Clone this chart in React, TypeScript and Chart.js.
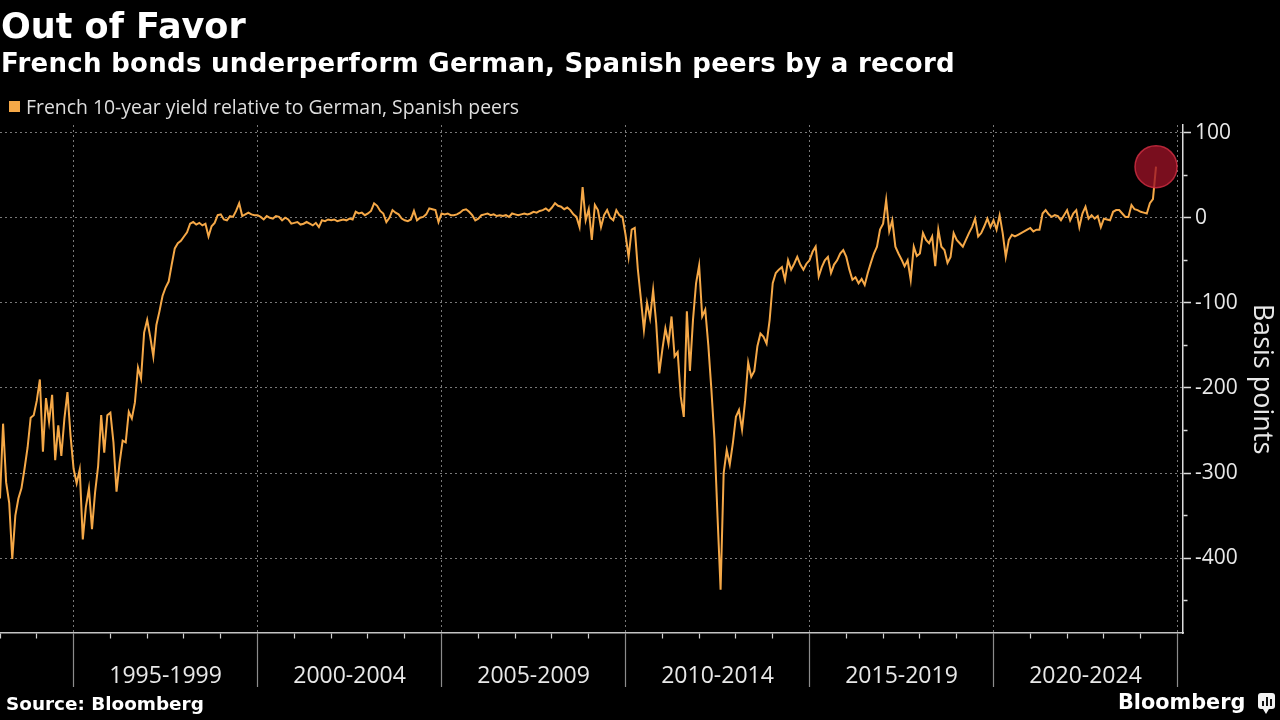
import React, { useEffect, useRef } from 'react';
import { Chart, registerables } from 'chart.js';

Chart.register(...registerables);

// ---- Data (basis points, monthly readings from the chart) ----
const START_YEAR = 1993;

const spread1993to1999 = [
  -330, -242, -311, -335, -401, -350, -330, -318, -295, -270, -235, -232,
  -215, -190, -275, -212, -240, -208, -285, -244, -280, -236, -205, -256,
  -295, -312, -296, -378, -340, -318, -366, -323, -292, -232, -276, -232,
  -229, -264, -322, -288, -262, -264, -228, -236, -217, -176, -189, -135,
  -120, -140, -163, -126, -110, -92, -82, -75, -55, -36, -30, -27,
  -22, -17, -7, -5, -8, -6, -9, -7, -22, -10, -6, 3,
  4, -2, -3, 2, 1, 8, 17, 2, 4, 6, 4, 3,
];

const spread2000to2009 = [
  3, 1, -2, 2, 0, -1, 2, 1, -3, 0, -2, -7,
  -6, -5, -8, -7, -5, -7, -9, -6, -11, -3, -4, -2,
  -3, -2, -4, -3, -2, -3, -1, -2, 7, 5, 6, 3,
  5, 8, 17, 14, 8, 5, -5, 0, 9, 6, 4, -1,
  -3, -4, -2, 8, -3, 0, 1, 4, 11, 10, 9, -5,
  5, 4, 5, 3, 3, 4, 6, 9, 10, 7, 3, -3,
  -1, 3, 4, 5, 3, 4, 2, 3, 2, 3, 1, 5,
  4, 3, 4, 5, 4, 5, 7, 6, 8, 9, 11, 8,
  12, 17, 14, 13, 10, 12, 9, 4, 1, -11, 36, -3,
  10, -26, 15, 9, -11, 3, 9, 0, -3, 9, 3, 1,
];

const spread2010to2014 = [
  -20, -46, -14, -12, -60, -95, -132, -100, -118, -85, -124, -183,
  -155, -130, -148, -116, -163, -158, -210, -234, -110, -180, -120, -77,
  -56, -116, -108, -150, -202, -260, -351, -437, -300, -273, -290, -265,
  -234, -226, -249, -215, -170, -187, -180, -151, -136, -140, -148, -120,
  -77, -65, -61, -58, -73, -50, -61, -54, -46, -55, -61, -54,
];

const spread2015to2024 = [
  -50, -40, -34, -69, -58, -50, -46, -65, -55, -50, -42, -38,
  -46, -61, -73, -70, -77, -72, -79, -65, -53, -42, -34, -14,
  -7, 21, -16, -3, -34, -42, -49, -57, -50, -73, -34, -45,
  -42, -18, -26, -30, -22, -57, -14, -34, -38, -53, -46, -18,
  -26, -30, -34, -26, -18, -11, -1, -22, -18, -10, -1, -11,
  -3, -14, 3, -18, -46, -26, -20, -22, -20, -18, -16, -14,
  -12, -16, -14, -14, 5, 9, 4, 1, 3, 2, -3, 3,
  9, -3, 5, 9, -11, 5, 13, -1, 3, -1, 2, -11,
  -1, -2, -3, 7, 9, 9, 5, 1, 1, 15, 10, 9,
  7, 6, 5, 17, 22, 60,
];

const periodLabels = ['1995-1999', '2000-2004', '2005-2009', '2010-2014', '2015-2019', '2020-2024'];
const periodMidpoints = [1997.5, 2002.5, 2007.5, 2012.5, 2017.5, 2022.5];
const yearTicks = [
  1993, 1994, 1995, 1996, 1997, 1998, 1999, 2000, 2001, 2002, 2003, 2004, 2005,
  2006, 2007, 2008, 2009, 2010, 2011, 2012, 2013, 2014, 2015, 2016, 2017, 2018,
  2019, 2020, 2021, 2022, 2023, 2024, 2025,
];
const yTickValues = [-450, -400, -350, -300, -250, -200, -150, -100, -50, 0, 50, 100];

const seriesLabel = 'French 10-year yield relative to German, Spanish peers';
const titleText = 'Out of Favor';
const subtitleText = 'French bonds underperform German, Spanish peers by a record';
const sourceText = 'Source: Bloomberg';
const yAxisTitle = 'Basis points';

const LINE_COLOR = '#F5A847';
const GRID_COLOR = 'rgba(150,150,150,0.8)';

export default function App() {
  const canvasRef = useRef<HTMLCanvasElement | null>(null);

  useEffect(() => {
    if (!canvasRef.current) return;
    const values = [...spread1993to1999, ...spread2000to2009, ...spread2010to2014, ...spread2015to2024];
    const points = values.map((v, i) => ({ x: START_YEAR + i / 12, y: v }));
    const lastIndex = points.length - 1;

    const isMajorYear = (v: number) => Number.isInteger(v) && v % 5 === 0;
    const isMid = (v: number) => periodMidpoints.indexOf(v) >= 0;

    const chart = new Chart(canvasRef.current, {
      type: 'line',
      data: {
        datasets: [
          {
            label: seriesLabel,
            data: points,
            borderColor: LINE_COLOR,
            borderWidth: 2,
            tension: 0,
            pointRadius: (c: any) => (c.dataIndex === lastIndex ? 21 : 0),
            pointHoverRadius: (c: any) => (c.dataIndex === lastIndex ? 21 : 0),
            pointBackgroundColor: 'rgba(155,18,38,0.78)',
            pointBorderColor: 'rgba(205,45,65,0.85)',
            pointBorderWidth: 1.5,
            fill: false,
          },
        ],
      },
      options: {
        animation: false,
        responsive: false,
        devicePixelRatio: 1,
        events: [],
        layout: { autoPadding: false, padding: { top: 125, left: 0, right: 0, bottom: 0 } },
        plugins: {
          legend: { display: false },
          tooltip: { enabled: false },
          title: { display: false },
        },
        scales: {
          x: {
            type: 'linear',
            min: 1993,
            max: 2025.15,
            afterBuildTicks: (s: any) => {
              const all = [...yearTicks, ...periodMidpoints].sort((a, b) => a - b);
              s.ticks = all.map((v) => ({ value: v }));
            },
            afterFit: (s: any) => {
              s.height = 87;
              s.paddingLeft = 0;
              s.paddingRight = 0;
            },
            ticks: {
              autoSkip: false,
              maxRotation: 0,
              minRotation: 0,
              padding: -24,
              color: '#e8e8e8',
              font: { family: 'Open Sans', size: 23 },
              callback: (v: any) => {
                const k = periodMidpoints.indexOf(Number(v));
                return k >= 0 ? periodLabels[k] : '';
              },
            },
            grid: {
              color: (c: any) => (c.tick && isMajorYear(c.tick.value) ? GRID_COLOR : 'rgba(0,0,0,0)'),
              lineWidth: 1,
              tickLength: 54,
              tickWidth: 1.2,
              tickColor: (c: any) => {
                const v = c.tick ? c.tick.value : 0;
                if (isMid(v)) return 'rgba(0,0,0,0)';
                return isMajorYear(v) ? '#8c8c8c' : '#cfcfcf';
              },
              tickBorderDash: (c: any) => {
                const v = c.tick ? c.tick.value : 0;
                return isMajorYear(v) ? [] : [5, 200];
              },
            },
            border: { display: true, color: '#c4c4c4', width: 1.5, dash: [2, 3] },
          },
          y: {
            type: 'linear',
            position: 'right',
            min: -488,
            max: 109,
            afterBuildTicks: (s: any) => {
              s.ticks = yTickValues.map((v) => ({ value: v }));
            },
            afterFit: (s: any) => {
              s.width = 97;
            },
            ticks: {
              autoSkip: false,
              padding: 4,
              color: '#e8e8e8',
              font: { family: 'Open Sans', size: 21 },
              callback: (v: any) => (Number(v) % 100 === 0 ? String(v) : ''),
            },
            grid: {
              color: (c: any) => (c.tick && c.tick.value % 100 === 0 ? GRID_COLOR : 'rgba(0,0,0,0)'),
              lineWidth: 1,
              tickLength: 8,
              tickWidth: 1.5,
              tickColor: '#dcdcdc',
              tickBorderDash: (c: any) => (c.tick && c.tick.value % 100 === 0 ? [] : [4, 60]),
            },
            border: { display: true, color: '#dcdcdc', width: 1.5, dash: [2, 3] },
            title: {
              display: true,
              text: yAxisTitle,
              color: '#e8e8e8',
              font: { family: 'Open Sans', size: 27 },
              padding: { top: 2, bottom: 0 },
            },
          },
        },
      },
    } as any);

    return () => chart.destroy();
  }, []);

  return (
    <div
      style={{
        position: 'fixed',
        left: 0,
        top: 0,
        width: 1280,
        height: 720,
        background: '#000',
        overflow: 'hidden',
      }}
    >
      <canvas ref={canvasRef} width={1280} height={720} style={{ position: 'absolute', left: 0, top: 0 }} />
      <div
        style={{
          position: 'absolute',
          left: 1,
          top: 9,
          font: 'bold 35px "DejaVu Sans"',
          lineHeight: '35px',
          color: '#ffffff',
          whiteSpace: 'nowrap',
        }}
      >
        {titleText}
      </div>
      <div
        style={{
          position: 'absolute',
          left: 1,
          top: 50,
          font: 'bold 26px "DejaVu Sans"',
          letterSpacing: '0.3px',
          lineHeight: '26px',
          color: '#ffffff',
          whiteSpace: 'nowrap',
        }}
      >
        {subtitleText}
      </div>
      <div style={{ position: 'absolute', left: 9, top: 101, width: 11, height: 11, background: LINE_COLOR }} />
      <div
        style={{
          position: 'absolute',
          left: 26,
          top: 97,
          font: '19.4px "Open Sans"',
          lineHeight: '19px',
          color: '#dedede',
          whiteSpace: 'nowrap',
        }}
      >
        {seriesLabel}
      </div>
      <div
        style={{
          position: 'absolute',
          left: 6,
          top: 695,
          font: 'bold 18.4px "DejaVu Sans"',
          lineHeight: '18px',
          color: '#ffffff',
          whiteSpace: 'nowrap',
        }}
      >
        {sourceText}
      </div>
      <div
        style={{
          position: 'absolute',
          left: 1118,
          top: 692,
          font: 'bold 20.8px "DejaVu Sans"',
          lineHeight: '21px',
          color: '#ffffff',
          whiteSpace: 'nowrap',
        }}
      >
        Bloomberg
      </div>
      <div
        style={{
          position: 'absolute',
          left: 1258,
          top: 693,
          width: 17,
          height: 16,
          borderRadius: 3,
          background: '#f2f2f2',
        }}
      >
        <div style={{ position: 'absolute', left: 4, top: 8, width: 2, height: 5, background: '#111' }} />
        <div style={{ position: 'absolute', left: 8, top: 4, width: 2, height: 9, background: '#111' }} />
        <div style={{ position: 'absolute', left: 12, top: 6, width: 2, height: 7, background: '#111' }} />
      </div>
      <div
        style={{
          position: 'absolute',
          left: 1263,
          top: 709,
          width: 0,
          height: 0,
          borderLeft: '3px solid transparent',
          borderRight: '3px solid transparent',
          borderTop: '5px solid #f2f2f2',
        }}
      />
    </div>
  );
}
